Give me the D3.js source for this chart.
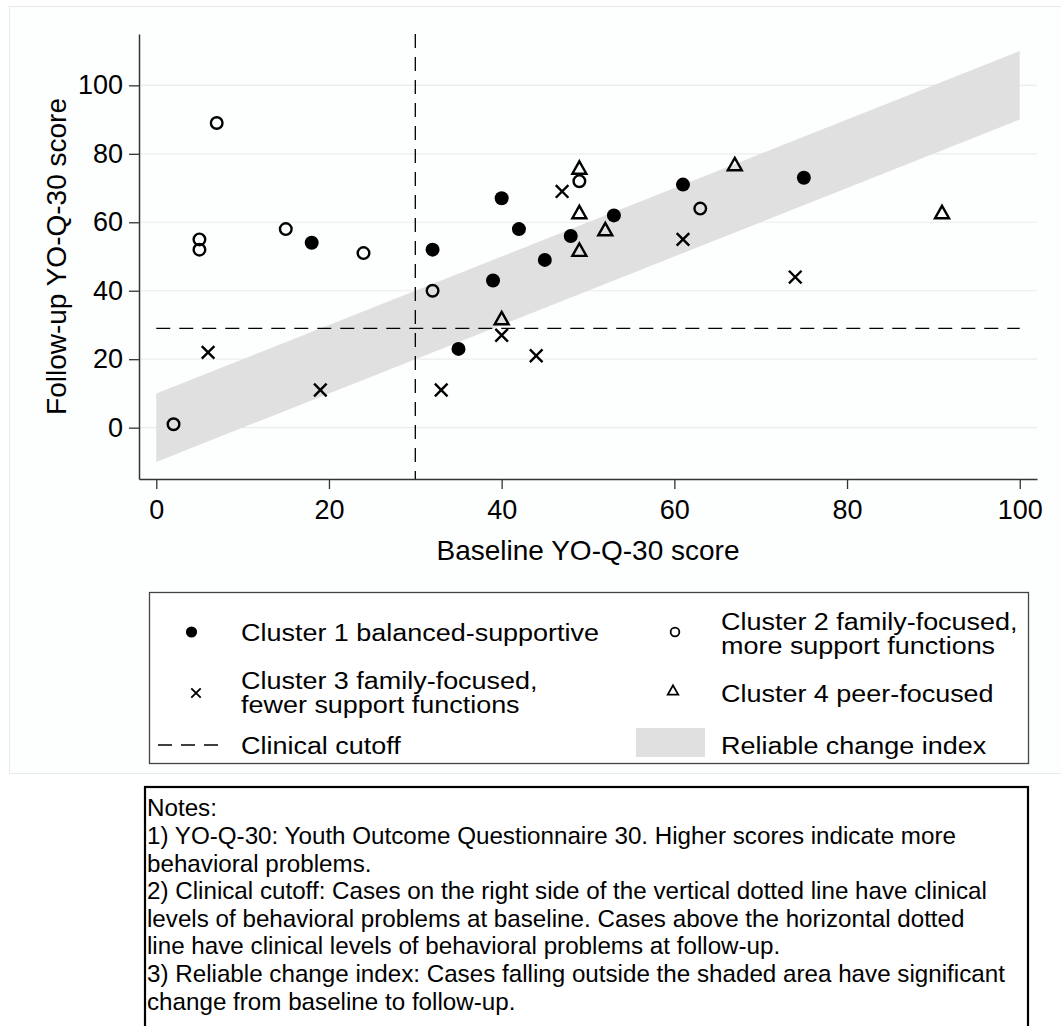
<!DOCTYPE html>
<html>
<head>
<meta charset="utf-8">
<script src="https://cdn.jsdelivr.net/npm/d3@7"></script>
<style>
  body { margin: 0; background: #fff; }
  text { font-family: "Liberation Sans", Arial, sans-serif; fill: #000; }
</style>
</head>
<body>
<div id="chart"></div>
<script>
// data: [baseline, follow-up]
const cluster1 = [[18,54],[32,52],[35,23],[39,43],[40,67],[42,58],[45,49],[48,56],[53,62],[61,71],[75,73]];
const cluster2 = [[2,1],[5,52],[5,55],[7,89],[15,58],[24,51],[32,40],[49,72],[63,64]];
const cluster3 = [[6,22],[19,11],[33,11],[40,27],[44,21],[47,69],[61,55],[74,44]];
const cluster4 = [[40,32],[49,52],[49,63],[49,76],[52,58],[67,77],[91,63]];
const xTicks = [0, 20, 40, 60, 80, 100];
const yTicks = [0, 20, 40, 60, 80, 100];
const cutoffX = 30;
const cutoffY = 29;
const rci = 10;
const legendLabels = [
  ["Cluster 1 balanced-supportive"],
  ["Cluster 2 family-focused,", "more support functions"],
  ["Cluster 3 family-focused,", "fewer support functions"],
  ["Cluster 4 peer-focused"],
  ["Clinical cutoff"],
  ["Reliable change index"]
];
const notes = [
  "Notes:",
  "1) YO-Q-30: Youth Outcome Questionnaire 30. Higher scores indicate more",
  "behavioral problems.",
  "2) Clinical cutoff: Cases on the right side of the vertical dotted line have clinical",
  "levels of behavioral problems at baseline. Cases above the horizontal dotted",
  "line have clinical levels of behavioral problems at follow-up.",
  "3) Reliable change index: Cases falling outside the shaded area have significant",
  "change from baseline to follow-up."
];

const width = 1061;
const height = 1026;
const margin = { top: 34, right: 24, bottom: 547, left: 139 };

const svg = d3.select('#chart')
  .append('svg')
  .attr('width', width)
  .attr('height', height);

// faint graph region
svg.append('rect')
  .attr('x', 9.5).attr('y', 6.5)
  .attr('width', width).attr('height', 767)
  .attr('fill', '#fdfefe')
  .attr('stroke', '#e6ecec');

const x = d3.scaleLinear().domain([-2, 102]).range([margin.left, width - margin.right]);
const y = d3.scaleLinear().domain([-15, 115]).range([height - margin.bottom, margin.top]);

// gridlines
svg.append('g')
  .selectAll('line')
  .data(yTicks)
  .join('line')
  .attr('x1', x.range()[0]).attr('x2', x.range()[1])
  .attr('y1', d => y(d)).attr('y2', d => y(d))
  .attr('stroke', '#ececec')
  .attr('stroke-width', 1.2);

// reliable change band
const band = d3.area()
  .x(d => x(d))
  .y0(d => y(d - rci))
  .y1(d => y(d + rci));
svg.append('path')
  .datum([0, 100])
  .attr('d', band)
  .attr('fill', '#e0e0e0');

// cutoff lines
svg.append('line')
  .attr('x1', x(cutoffX)).attr('x2', x(cutoffX))
  .attr('y1', y.range()[1]).attr('y2', y.range()[0])
  .attr('stroke', '#000').attr('stroke-width', 1.3)
  .attr('stroke-dasharray', '14,9');
svg.append('line')
  .attr('x1', x(0)).attr('x2', x(100))
  .attr('y1', y(cutoffY)).attr('y2', y(cutoffY))
  .attr('stroke', '#000').attr('stroke-width', 1.3)
  .attr('stroke-dasharray', '14,9');

// axes
const xAxis = svg.append('g')
  .attr('transform', `translate(0,${y.range()[0]})`)
  .call(d3.axisBottom(x).tickValues(xTicks).tickSize(10).tickPadding(11).tickSizeOuter(0));
const yAxis = svg.append('g')
  .attr('transform', `translate(${x.range()[0]},0)`)
  .call(d3.axisLeft(y).tickValues(yTicks).tickSize(10).tickPadding(6).tickSizeOuter(0));
[xAxis, yAxis].forEach(g => {
  g.select('.domain').attr('stroke', '#333').attr('stroke-width', 1.5);
  g.selectAll('.tick line').attr('stroke', '#333').attr('stroke-width', 1.3);
  g.selectAll('.tick text').style('font-size', '27px').attr('fill', '#000');
});

svg.append('text')
  .attr('x', (x.range()[0] + x.range()[1]) / 2)
  .attr('y', 560)
  .attr('text-anchor', 'middle')
  .style('font-size', '28px')
  .text('Baseline YO-Q-30 score');
svg.append('text')
  .attr('transform', `translate(66,${(y.range()[0] + y.range()[1]) / 2}) rotate(-90)`)
  .attr('text-anchor', 'middle')
  .style('font-size', '28px')
  .text('Follow-up YO-Q-30 score');

// marker drawers
function drawMarker(g, type, s) {
  if (type === 'dot') {
    g.append('circle').attr('r', 7 * s).attr('fill', '#000');
  } else if (type === 'circle') {
    g.append('circle').attr('r', 5.8 * s).attr('fill', 'none').attr('stroke', '#000').attr('stroke-width', 2.4 * s);
  } else if (type === 'x') {
    const h = 6.3 * s;
    g.append('path').attr('d', `M${-h},${-h}L${h},${h}M${-h},${h}L${h},${-h}`)
      .attr('stroke', '#000').attr('stroke-width', 2.4 * s).attr('fill', 'none');
  } else if (type === 'tri') {
    const w = 7 * s, h = 6.2 * s;
    g.append('path').attr('d', `M0,${-h}L${w},${h}L${-w},${h}Z`)
      .attr('stroke', '#000').attr('stroke-width', 2.4 * s).attr('fill', 'none')
      .attr('stroke-linejoin', 'miter');
  }
}

const series = [
  { data: cluster1, type: 'dot' },
  { data: cluster2, type: 'circle' },
  { data: cluster3, type: 'x' },
  { data: cluster4, type: 'tri' }
];
series.forEach(s => {
  svg.append('g')
    .selectAll('g')
    .data(s.data)
    .join('g')
    .attr('transform', d => `translate(${x(d[0])},${y(d[1])})`)
    .each(function () { drawMarker(d3.select(this), s.type, 1); });
});

// legend
const leg = svg.append('g');
leg.append('rect')
  .attr('x', 149.5).attr('y', 592.5)
  .attr('width', 879).attr('height', 171)
  .attr('fill', '#fff').attr('stroke', '#444').attr('stroke-width', 1.3);

const legItems = [
  { type: 'dot', mx: 191.5, my: 632, tx: 241, cy: 632, lines: legendLabels[0] },
  { type: 'circle', mx: 675, my: 632, tx: 721, cy: 633, lines: legendLabels[1] },
  { type: 'x', mx: 196, my: 693, tx: 241, cy: 692, lines: legendLabels[2] },
  { type: 'tri', mx: 673, my: 690, tx: 721, cy: 693, lines: legendLabels[3] },
  { type: 'dash', mx: 191, my: 745, tx: 241, cy: 745, lines: legendLabels[4] },
  { type: 'band', mx: 670, my: 742, tx: 721, cy: 745, lines: legendLabels[5] }
];
legItems.forEach(it => {
  const g = leg.append('g');
  if (it.type === 'dash') {
    g.append('line').attr('x1', it.mx - 33).attr('x2', it.mx + 33)
      .attr('y1', it.my).attr('y2', it.my)
      .attr('stroke', '#000').attr('stroke-width', 1.3).attr('stroke-dasharray', '14,9');
  } else if (it.type === 'band') {
    g.append('rect').attr('x', 636).attr('y', it.my - 14).attr('width', 69).attr('height', 29)
      .attr('fill', '#e0e0e0');
  } else {
    const m = g.append('g').attr('transform', `translate(${it.mx},${it.my})`);
    drawMarker(m, it.type, it.type === 'dot' ? 0.8 : 0.75);
  }
  const lh = 24;
  const y0 = it.cy - (it.lines.length - 1) * lh / 2;
  // legend text is slightly wide in the original, stretch it a little
  it.lines.forEach((l, i) => {
    g.append('text')
      .attr('transform', `translate(${it.tx},${y0 + i * lh}) scale(1.1,1)`)
      .attr('dy', '0.35em')
      .style('font-size', '24.5px')
      .text(l);
  });
});

// notes box
svg.append('rect')
  .attr('x', 145).attr('y', 787)
  .attr('width', 883).attr('height', 260)
  .attr('fill', '#fff').attr('stroke', '#000').attr('stroke-width', 2.2);
svg.append('g')
  .selectAll('text')
  .data(notes)
  .join('text')
  .attr('x', 147)
  .attr('y', (d, i) => 808 + i * 27.6)
  .attr('dy', '0.35em')
  .style('font-size', '24.2px')
  .text(d => d);
</script>
</body>
</html>
